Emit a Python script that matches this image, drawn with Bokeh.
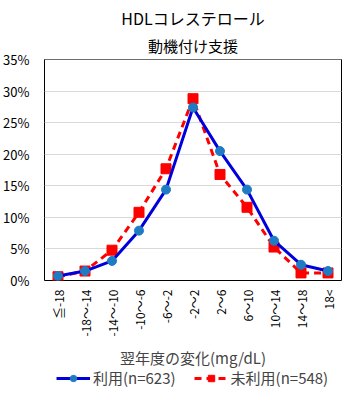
from bokeh.plotting import figure
from bokeh.layouts import column
from bokeh.models import (FactorRange, Range1d, NumeralTickFormatter, Title,
                          Legend, LegendItem, ColumnDataSource, FixedTicker)
from bokeh.embed import file_html
from bokeh.resources import INLINE
import math

categories = ["≦-18", "-18～-14", "-14～-10", "-10～-6", "-6～-2", "-2～2",
              "2～6", "6～10", "10～14", "14～18", "18<"]
riyou = [0.7, 1.5, 3.1, 7.9, 14.4, 27.4, 20.5, 14.4, 6.3, 2.5, 1.5]
miriyou = [0.6, 1.5, 4.8, 10.8, 17.7, 28.8, 16.8, 11.6, 5.3, 1.2, 1.2]
y_ticks = [0.0, 0.05, 0.10, 0.15, 0.20, 0.25, 0.30, 0.35]
label_riyou = "利用(n=623)"
label_miriyou = "未利用(n=548)"
title_main = "HDLコレステロール"
title_sub = "動機付け支援"
x_label = "翌年度の変化(mg/dL)"

FONT = "Noto Sans CJK JP"
BLUE_LINE = "#0000DD"
BLUE_MARK = "#1F7BC4"
RED = "#FF0000"

src = ColumnDataSource(dict(x=categories,
                            a=[v / 100 for v in riyou],
                            b=[v / 100 for v in miriyou]))

p = figure(width=355, height=371,
           x_range=FactorRange(*categories, range_padding=0),
           y_range=Range1d(0, 0.3501), output_backend="svg", toolbar_location=None,
           min_border_left=41, min_border_right=14, min_border_top=59,
           min_border_bottom=91)
p.background_fill_color = "white"
p.border_fill_color = "white"
p.outline_line_color = "black"
p.outline_line_width = 1

sub = Title(text=title_sub, align="center", text_font=FONT, text_font_size="15px",
            text_font_style="normal", text_color="black", offset=-17, standoff=7)
main = Title(text=title_main, align="center", text_font=FONT, text_font_size="16px",
             text_font_style="normal", text_color="black", offset=-17, standoff=0)
p.add_layout(sub, "above")
p.add_layout(main, "above")

# axes
p.yaxis.ticker = FixedTicker(ticks=y_ticks)
p.yaxis.formatter = NumeralTickFormatter(format="0%")
for ax in (p.xaxis[0], p.yaxis[0]):
    ax.axis_line_color = None
    ax.major_tick_line_color = None
    ax.minor_tick_line_color = None
    ax.major_label_text_font = FONT
    ax.major_label_text_color = "black"
p.yaxis.major_label_text_font_size = "13px"
p.xaxis.major_label_text_font_size = "12px"
p.yaxis.major_label_standoff = 9
p.xaxis.major_label_orientation = math.pi / 2
p.xaxis.major_label_standoff = 3
p.xaxis.axis_label = x_label
p.xaxis.axis_label_text_font = FONT
p.xaxis.axis_label_text_font_size = "15px"
p.xaxis.axis_label_text_font_style = "normal"
p.xaxis.axis_label_standoff = 8
p.xgrid.grid_line_color = None
p.ygrid.grid_line_color = "#D9D9D9"
p.ygrid.grid_line_width = 1

# series
p.line("x", "b", source=src, line_color=RED, line_width=3, line_dash="7 5")
p.scatter("x", "b", source=src, marker="square", size=10,
          fill_color=RED, line_color=RED)
p.line("x", "a", source=src, line_color=BLUE_LINE, line_width=3)
p.scatter("x", "a", source=src, marker="circle", size=9,
          fill_color=BLUE_MARK, line_color=BLUE_MARK)

# legend strip below the chart (its y range hides the series, only the key shows)
q = figure(width=355, height=30,
           x_range=FactorRange(*categories, range_padding=0),
           y_range=Range1d(1, 2),
           output_backend="svg", toolbar_location=None,
           min_border_left=0, min_border_right=0, min_border_top=0,
           min_border_bottom=0)
q.axis.visible = False
q.grid.grid_line_color = None
q.outline_line_color = None
q.background_fill_color = "white"
q.border_fill_color = "white"
ka = q.line("x", "a", source=src, line_color=BLUE_LINE, line_width=3)
kam = q.scatter("x", "a", source=src, marker="circle", size=9,
                fill_color=BLUE_MARK, line_color=BLUE_MARK)
kb = q.line("x", "b", source=src, line_color=RED, line_width=3, line_dash="7 5")
kbm = q.scatter("x", "b", source=src, marker="square", size=10,
                fill_color=RED, line_color=RED)

legend = Legend(items=[LegendItem(label=label_riyou, renderers=[ka, kam]),
                       LegendItem(label=label_miriyou, renderers=[kb, kbm])],
                orientation="horizontal", location=(12, 13),
                label_text_font=FONT, label_text_font_size="15px",
                glyph_width=34, glyph_height=16, label_height=16,
                label_standoff=3, spacing=18, padding=0,
                margin=0, border_line_color=None, background_fill_alpha=0)
q.add_layout(legend)

layout = column(p, q, spacing=0)
open("out.html", "w").write(file_html(layout, INLINE))
